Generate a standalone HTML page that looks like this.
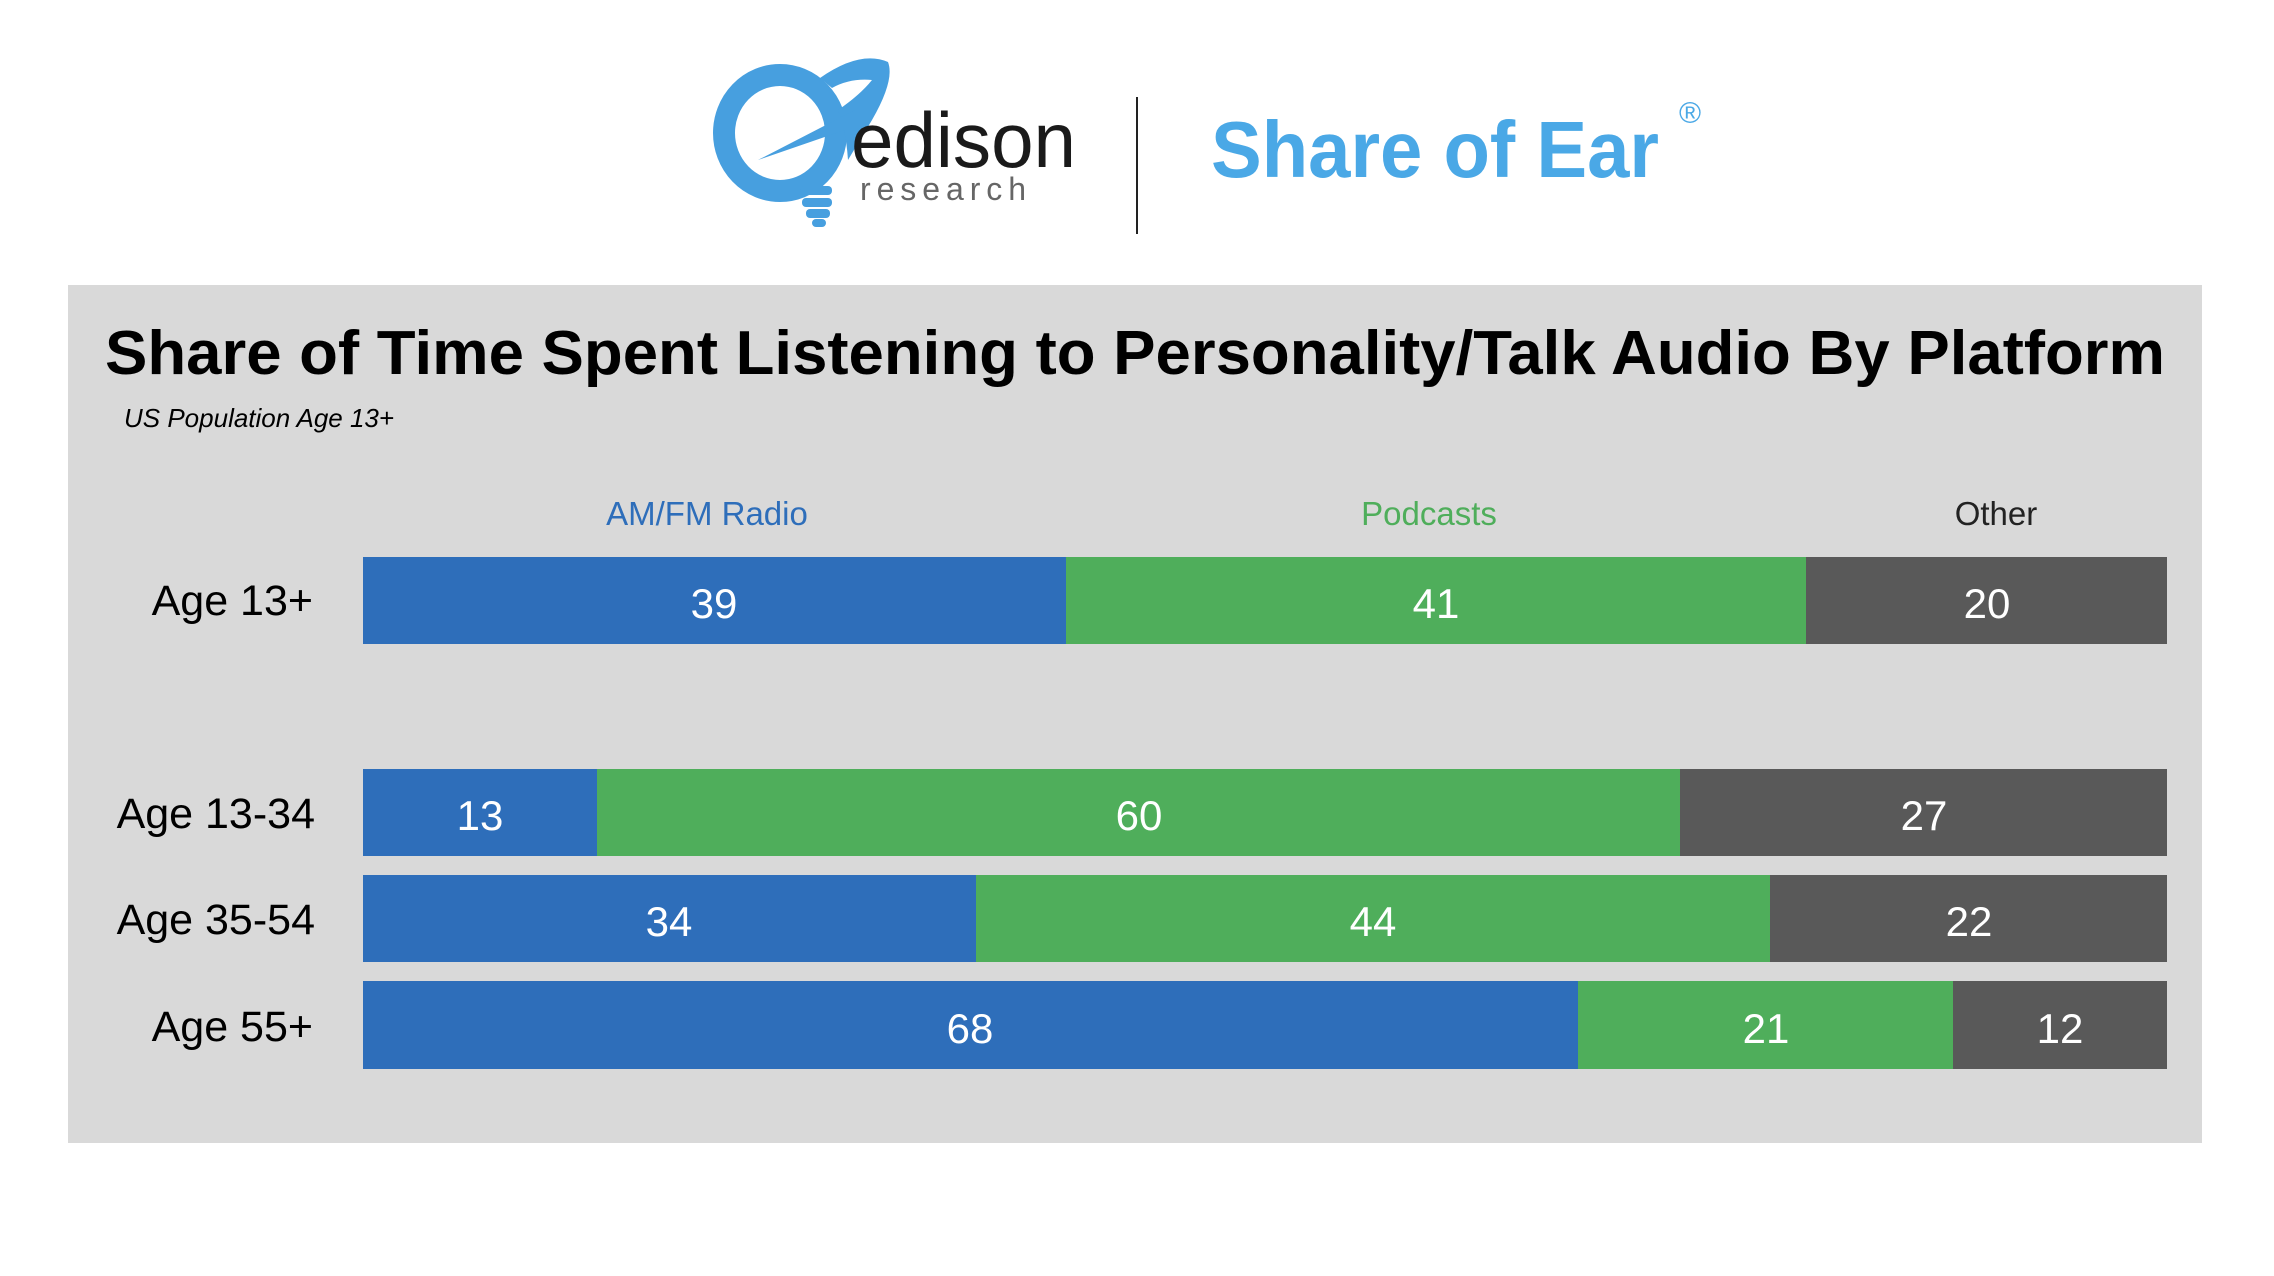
<!DOCTYPE html>
<html><head><meta charset="utf-8"><style>
html,body{margin:0;padding:0;background:#fff;}
svg{display:block}
</style></head><body>
<svg width="2274" height="1276" viewBox="0 0 2274 1276" xmlns="http://www.w3.org/2000/svg">
<rect x="0" y="0" width="2274" height="1276" fill="#fff"/>
<g fill="none" stroke="#479fdf">
<ellipse cx="780" cy="133" rx="56" ry="58" stroke-width="22"/>
</g>
<path d="M820 78 Q860 50 888 62 Q895 80 872 120 L848 160 Q846 130 838 110 Q860 95 872 80 Q850 78 832 88 Z" fill="#479fdf"/>
<path d="M758 160 L855 110 L845 130 Z" fill="#479fdf"/>
<g fill="#479fdf">
<rect x="800" y="186" width="32" height="9" rx="4"/>
<rect x="802" y="198" width="30" height="9" rx="4"/>
<rect x="806" y="209" width="24" height="9" rx="4"/>
<rect x="812" y="219" width="14" height="8" rx="4"/>
</g>
<text x="851" y="167" font-family="Liberation Sans, sans-serif" font-size="78" fill="#1a1a1a" textLength="225" lengthAdjust="spacingAndGlyphs">edison</text>
<text x="860" y="200" font-family="Liberation Sans, sans-serif" font-size="32" fill="#666" textLength="166" lengthAdjust="spacing">research</text>
<rect x="1136" y="97" width="2" height="137" fill="#222"/>
<text x="1211" y="177" font-family="Liberation Sans, sans-serif" font-weight="bold" font-size="80" fill="#4aa8e6" textLength="448" lengthAdjust="spacingAndGlyphs">Share of Ear</text>
<text x="1690" y="123" font-family="Liberation Sans, sans-serif" font-size="30" fill="#4aa8e6" text-anchor="middle">®</text>
<rect x="68" y="285" width="2134" height="858" fill="#d9d9d9"/>
<text x="1135" y="374" font-family="Liberation Sans, sans-serif" font-weight="bold" font-size="62" fill="#000" text-anchor="middle" textLength="2060" lengthAdjust="spacingAndGlyphs">Share of Time Spent Listening to Personality/Talk Audio By Platform</text>
<text x="124" y="427" font-family="Liberation Sans, sans-serif" font-style="italic" font-size="26" fill="#000">US Population Age 13+</text>
<g font-family="Liberation Sans, sans-serif" font-size="33" text-anchor="middle">
<text x="707" y="525" fill="#2e6eba">AM/FM Radio</text>
<text x="1429" y="525" fill="#4fae5b">Podcasts</text>
<text x="1996" y="525" fill="#222">Other</text>
</g>
<g>
<rect x="363" y="557" width="703" height="87" fill="#2e6eba"/>
<rect x="1066" y="557" width="740" height="87" fill="#4fae5b"/>
<rect x="1806" y="557" width="361" height="87" fill="#595959"/>

<rect x="363" y="769" width="234" height="87" fill="#2e6eba"/>
<rect x="597" y="769" width="1083" height="87" fill="#4fae5b"/>
<rect x="1680" y="769" width="487" height="87" fill="#595959"/>

<rect x="363" y="875" width="613" height="87" fill="#2e6eba"/>
<rect x="976" y="875" width="794" height="87" fill="#4fae5b"/>
<rect x="1770" y="875" width="397" height="87" fill="#595959"/>

<rect x="363" y="981" width="1215" height="88" fill="#2e6eba"/>
<rect x="1578" y="981" width="375" height="88" fill="#4fae5b"/>
<rect x="1953" y="981" width="214" height="88" fill="#595959"/>
</g>
<g font-family="Liberation Sans, sans-serif" font-size="42" fill="#fff" text-anchor="middle">
<text x="714" y="618">39</text><text x="1436" y="618">41</text><text x="1987" y="618">20</text>
<text x="480" y="830">13</text><text x="1139" y="830">60</text><text x="1924" y="830">27</text>
<text x="669" y="936">34</text><text x="1373" y="936">44</text><text x="1969" y="936">22</text>
<text x="970" y="1043">68</text><text x="1766" y="1043">21</text><text x="2060" y="1043">12</text>
</g>
<g font-family="Liberation Sans, sans-serif" font-size="43" fill="#000" text-anchor="end">
<text x="313" y="615">Age 13+</text>
<text x="315" y="828">Age 13-34</text>
<text x="315" y="934">Age 35-54</text>
<text x="313" y="1041">Age 55+</text>
</g>
</svg>
</body></html>
